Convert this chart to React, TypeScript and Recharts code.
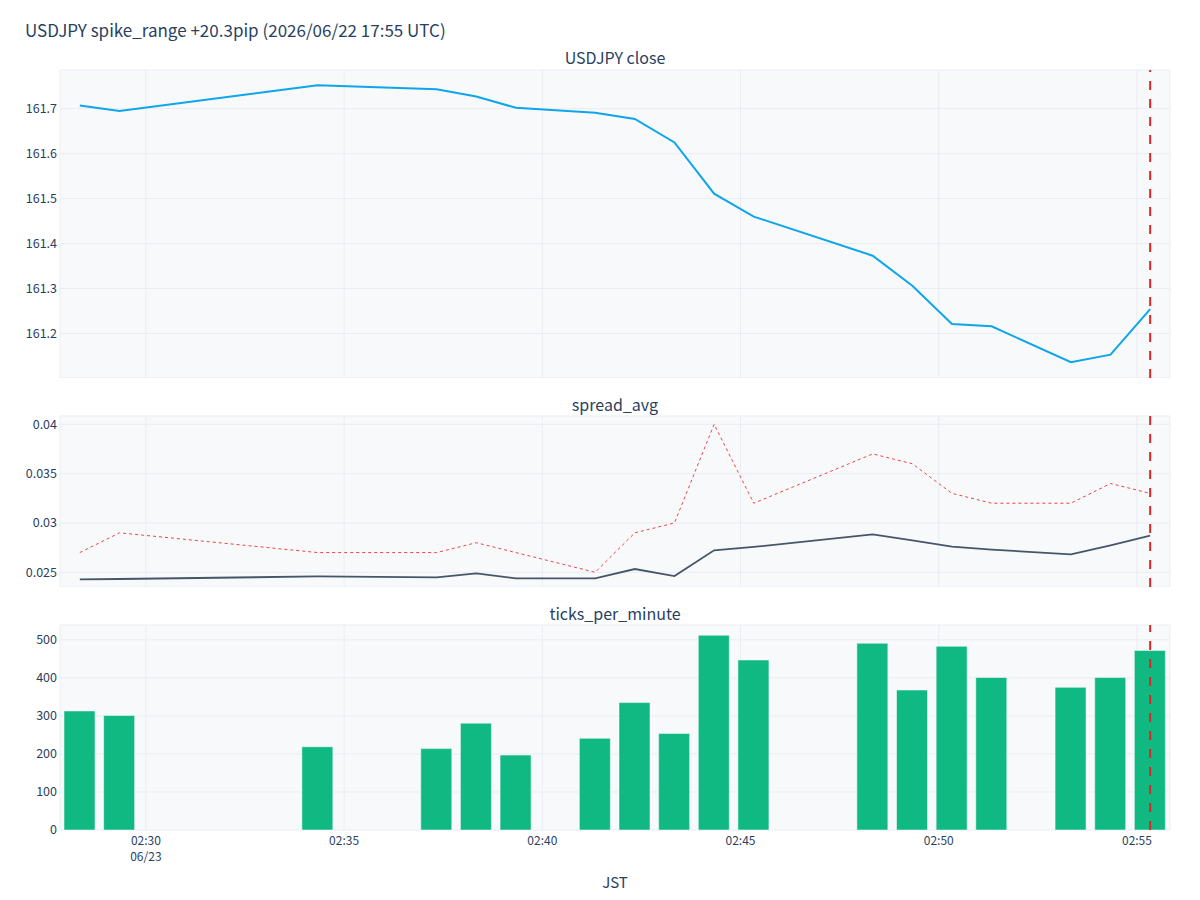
import React from "react";
import {
	ComposedChart,
	Line,
	Bar,
	XAxis,
	YAxis,
	CartesianGrid,
	ReferenceLine,
} from "recharts";

// JST timestamps of each one-minute bucket
const times = [
	"02:28:20", "02:29:20", "02:34:20", "02:37:20", "02:38:20", "02:39:20",
	"02:41:20", "02:42:20", "02:43:20", "02:44:20", "02:45:20", "02:48:20",
	"02:49:20", "02:50:20", "02:51:20", "02:53:20", "02:54:20", "02:55:20",
];

const closePrices = [
	161.707, 161.695, 161.752, 161.743, 161.727, 161.702,
	161.691, 161.677, 161.625, 161.511, 161.46, 161.373,
	161.306, 161.221, 161.216, 161.136, 161.153, 161.254,
];

const spreadAvg = [
	0.02429, 0.02432, 0.02458, 0.02448, 0.02489, 0.02438,
	0.02438, 0.02533, 0.02462, 0.02723, 0.02757, 0.02885,
	0.02824, 0.0276, 0.0273, 0.02682, 0.02773, 0.02872,
];

const spreadMax = [
	0.027, 0.029, 0.027, 0.027, 0.028, 0.027,
	0.025, 0.029, 0.03, 0.04, 0.032, 0.037,
	0.036, 0.033, 0.032, 0.032, 0.034, 0.033,
];

const ticksPerMinute = [
	313, 301, 219, 214, 281, 197,
	241, 335, 254, 512, 447, 491,
	368, 483, 401, 375, 401, 472,
];

const xTickLabels = ["02:30", "02:35", "02:40", "02:45", "02:50", "02:55"];
const dateLabel = "06/23";
const spikeTime = "02:55:20";

const closeTicks = [161.2, 161.3, 161.4, 161.5, 161.6, 161.7];
const spreadTicks = [0.025, 0.03, 0.035, 0.04];
const tickCountTicks = [0, 100, 200, 300, 400, 500];

const toMin = (t: string) => {
	const [h, m, s] = t.split(":").map(Number);
	return h * 60 + m + (s || 0) / 60;
};

const data = times.map((t, i) => ({
	t: toMin(t),
	close: closePrices[i],
	avg: spreadAvg[i],
	max: spreadMax[i],
	ticks: ticksPerMinute[i],
}));

const xTicks = xTickLabels.map(toMin);
const xDomain = [toMin(times[0]) - 0.5, toMin(times[times.length - 1]) + 0.5];
const spikeX = toMin(spikeTime);

const FONT = '"Noto Sans CJK JP", "Noto Sans", sans-serif';
const TEXT = "#2a3f5f";
const GRID = "#e9edf4";
const BG = "#f8f9fa";
const PAD = 10; // room above each plot so top tick labels are not clipped
const MARGIN = { top: PAD, right: 30, bottom: 0, left: 0 };

const fmtTime = (v: number) => {
	const h = Math.floor(v / 60);
	const m = Math.round(v - h * 60);
	return `${String(h).padStart(2, "0")}:${String(m).padStart(2, "0")}`;
};

const TimeTick = (props: any) => {
	const { x, y, payload, index } = props;
	return (
		<text x={x} y={y} textAnchor="middle" fill={TEXT} fontSize={12} fontFamily={FONT}>
			<tspan x={x} dy={13}>{fmtTime(payload.value)}</tspan>
			{index === 0 && (
				<tspan x={x} dy={16}>{dateLabel}</tspan>
			)}
		</text>
	);
};

const yAxisProps = {
	width: 60,
	axisLine: false,
	tickLine: false,
	tickSize: 0,
	tickMargin: 3,
	tick: { fill: TEXT, fontSize: 12.5, fontFamily: FONT },
	interval: 0 as const,
};

const subTitle = (text: string, top: number) => (
	<div
		style={{
			position: "absolute",
			left: 60,
			width: 1110,
			top: top - 11,
			height: 22,
			lineHeight: "22px",
			textAlign: "center",
			fontSize: 16,
			color: TEXT,
		}}>
		{text}
	</div>
);

const App: React.FC = () => {
	return (
		<div
			style={{
				position: "absolute",
				left: 0,
				top: 0,
				width: 1200,
				height: 900,
				background: "#fff",
				fontFamily: FONT,
			}}>
			{/* figure title */}
			<div
				style={{
					position: "absolute",
					left: 25,
					top: 18,
					lineHeight: "24px",
					fontSize: 17,
					color: TEXT,
				}}>
				USDJPY spike_range +20.3pip (2026/06/22 17:55 UTC)
			</div>

			{subTitle("USDJPY close", 57)}
			{subTitle("spread_avg", 404)}
			{subTitle("ticks_per_minute", 613)}

			{/* close price: plot 70..378 */}
			<div style={{ position: "absolute", left: 0, top: 70 - PAD }}>
				<ComposedChart width={1200} height={308 + PAD} data={data} margin={MARGIN}>
					<CartesianGrid stroke={GRID} fill={BG} />
					<XAxis dataKey="t" type="number" domain={xDomain} ticks={xTicks} hide />
					<YAxis {...yAxisProps} domain={[161.101, 161.786]} ticks={closeTicks} tickFormatter={(v: number) => v.toFixed(1)} />
					<Line dataKey="close" stroke="#0ea5e9" strokeWidth={2} dot={false} isAnimationActive={false} />
					<ReferenceLine x={spikeX} stroke="#dc2626" strokeWidth={2} strokeDasharray="9 9" />
				</ComposedChart>
			</div>

			{/* spread: plot 416..587 */}
			<div style={{ position: "absolute", left: 0, top: 416 - PAD }}>
				<ComposedChart width={1200} height={171 + PAD} data={data} margin={MARGIN}>
					<CartesianGrid stroke={GRID} fill={BG} />
					<XAxis dataKey="t" type="number" domain={xDomain} ticks={xTicks} hide />
					<YAxis {...yAxisProps} domain={[0.02351, 0.04084]} ticks={spreadTicks} tickFormatter={(v: number) => String(+v.toFixed(3))} />
					<Line dataKey="max" stroke="#ef4444" strokeWidth={1} strokeDasharray="3 3" dot={false} isAnimationActive={false} />
					<Line dataKey="avg" stroke="#475569" strokeWidth={1.8} dot={false} isAnimationActive={false} />
					<ReferenceLine x={spikeX} stroke="#dc2626" strokeWidth={2} strokeDasharray="9 9" />
				</ComposedChart>
			</div>

			{/* ticks per minute: plot 625..830 */}
			<div style={{ position: "absolute", left: 0, top: 625 - PAD }}>
				<ComposedChart width={1200} height={265 + PAD} data={data} margin={MARGIN}>
					<CartesianGrid stroke={GRID} fill={BG} />
					<XAxis
						dataKey="t"
						type="number"
						domain={xDomain}
						ticks={xTicks}
						interval={0}
						height={60}
						axisLine={false}
						tickLine={false}
						tickSize={0}
						tick={<TimeTick />}
					/>
					<YAxis {...yAxisProps} domain={[0, 539]} ticks={tickCountTicks} />
					<Bar dataKey="ticks" fill="#10b981" stroke="#ffffff" strokeWidth={0.5} barSize={31} isAnimationActive={false} />
					<ReferenceLine x={spikeX} stroke="#dc2626" strokeWidth={2} strokeDasharray="9 9" />
				</ComposedChart>
			</div>

			<div
				style={{
					position: "absolute",
					left: 60,
					width: 1110,
					top: 871,
					lineHeight: "22px",
					textAlign: "center",
					fontSize: 15,
					color: TEXT,
				}}>
				JST
			</div>
		</div>
	);
};

export default App;
